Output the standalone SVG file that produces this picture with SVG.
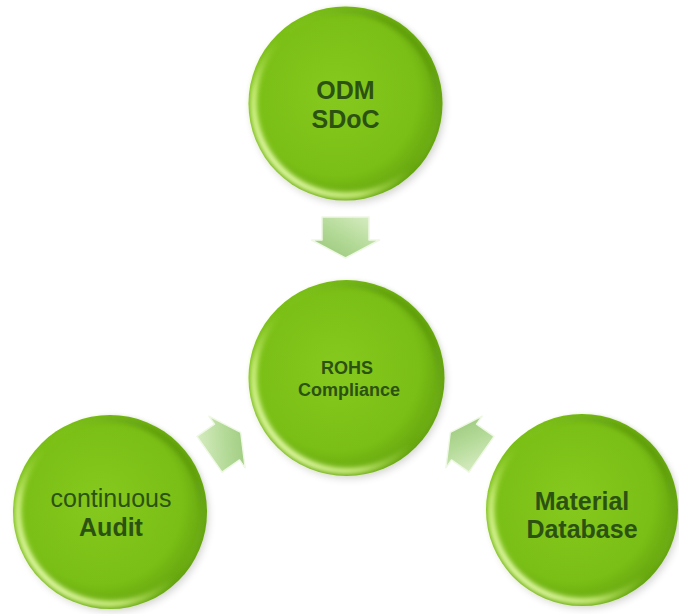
<svg xmlns="http://www.w3.org/2000/svg" width="679" height="614" viewBox="0 0 679 614">
  <defs>
    <radialGradient id="ballFill" cx="0.45" cy="0.45" r="0.6">
      <stop offset="0" stop-color="#86c91e"/>
      <stop offset="0.7" stop-color="#7abf16"/>
      <stop offset="1" stop-color="#5f9e0c"/>
    </radialGradient>
    <linearGradient id="rimLight" x1="0.85" y1="0.15" x2="0.15" y2="0.85">
      <stop offset="0" stop-color="#4f8a08" stop-opacity="0.6"/>
      <stop offset="0.5" stop-color="#9bd63a" stop-opacity="0"/>
      <stop offset="0.8" stop-color="#d9f68c" stop-opacity="0.9"/>
      <stop offset="1" stop-color="#eaffb0" stop-opacity="1"/>
    </linearGradient>
    <linearGradient id="arrowFill" x1="0" y1="0" x2="1" y2="1">
      <stop offset="0" stop-color="#dcefc8"/>
      <stop offset="0.5" stop-color="#b4da98"/>
      <stop offset="1" stop-color="#96c476"/>
    </linearGradient>
    <filter id="soft" x="-20%" y="-20%" width="140%" height="140%">
      <feGaussianBlur stdDeviation="2.5"/>
    </filter>
    <filter id="shadow" x="-20%" y="-20%" width="140%" height="140%">
      <feGaussianBlur stdDeviation="4"/>
    </filter>
    <path id="arrowShape" d="M -23,-23.5 L 0,-23.5 L 0,-34 L 18,0 L 0,34 L 0,23.5 L -23,23.5 Z"/>
  </defs>
  <style>
    .ball { fill: url(#ballFill); }
    .rim { fill: none; stroke: url(#rimLight); stroke-width: 6; filter: url(#soft); }
    .shade { fill: #000; opacity: 0.18; filter: url(#shadow); }
    .lbl { font-family: "Liberation Sans", Arial, sans-serif; font-weight: bold; fill: #2c5212; text-anchor: middle; }
    .reg { font-weight: normal; }
    .arrow { fill: url(#arrowFill); stroke: #eef8e4; stroke-width: 1.5; stroke-linejoin: round; }
  </style>
  <rect width="679" height="614" fill="#ffffff"/>

  <g id="node-odm">
    <circle class="shade" cx="348" cy="107" r="96"/>
    <circle class="ball" cx="345.5" cy="103.5" r="97"/>
    <circle class="rim" cx="345.5" cy="103.5" r="92"/>
    <text class="lbl" x="345.5" y="99" font-size="25">ODM</text>
    <text class="lbl" x="345.5" y="128" font-size="25">SDoC</text>
  </g>

  <g id="node-rohs">
    <circle class="shade" cx="349" cy="382" r="96"/>
    <circle class="ball" cx="346.5" cy="378" r="98"/>
    <circle class="rim" cx="346.5" cy="378" r="93"/>
    <text class="lbl" x="347" y="374" font-size="18">ROHS</text>
    <text class="lbl" x="349" y="396" font-size="18">Compliance</text>
  </g>

  <g id="node-audit">
    <circle class="shade" cx="113" cy="516" r="95"/>
    <circle class="ball" cx="110" cy="512" r="97"/>
    <circle class="rim" cx="110" cy="512" r="92"/>
    <text class="lbl reg" x="111" y="507" font-size="25">continuous</text>
    <text class="lbl" x="111" y="536" font-size="25">Audit</text>
  </g>

  <g id="node-material">
    <circle class="shade" cx="585" cy="514" r="94"/>
    <circle class="ball" cx="582" cy="510" r="96"/>
    <circle class="rim" cx="582" cy="510" r="91"/>
    <text class="lbl" x="582" y="510" font-size="25">Material</text>
    <text class="lbl" x="582" y="538" font-size="25">Database</text>
  </g>

  <g id="connectors">
    <use href="#arrowShape" class="arrow" transform="translate(345.5,240) rotate(90)"/>
    <use href="#arrowShape" class="arrow" transform="translate(227,442) rotate(-35) scale(0.93)"/>
    <use href="#arrowShape" class="arrow" transform="translate(464,442) rotate(-145) scale(0.93)"/>
  </g>
</svg>
